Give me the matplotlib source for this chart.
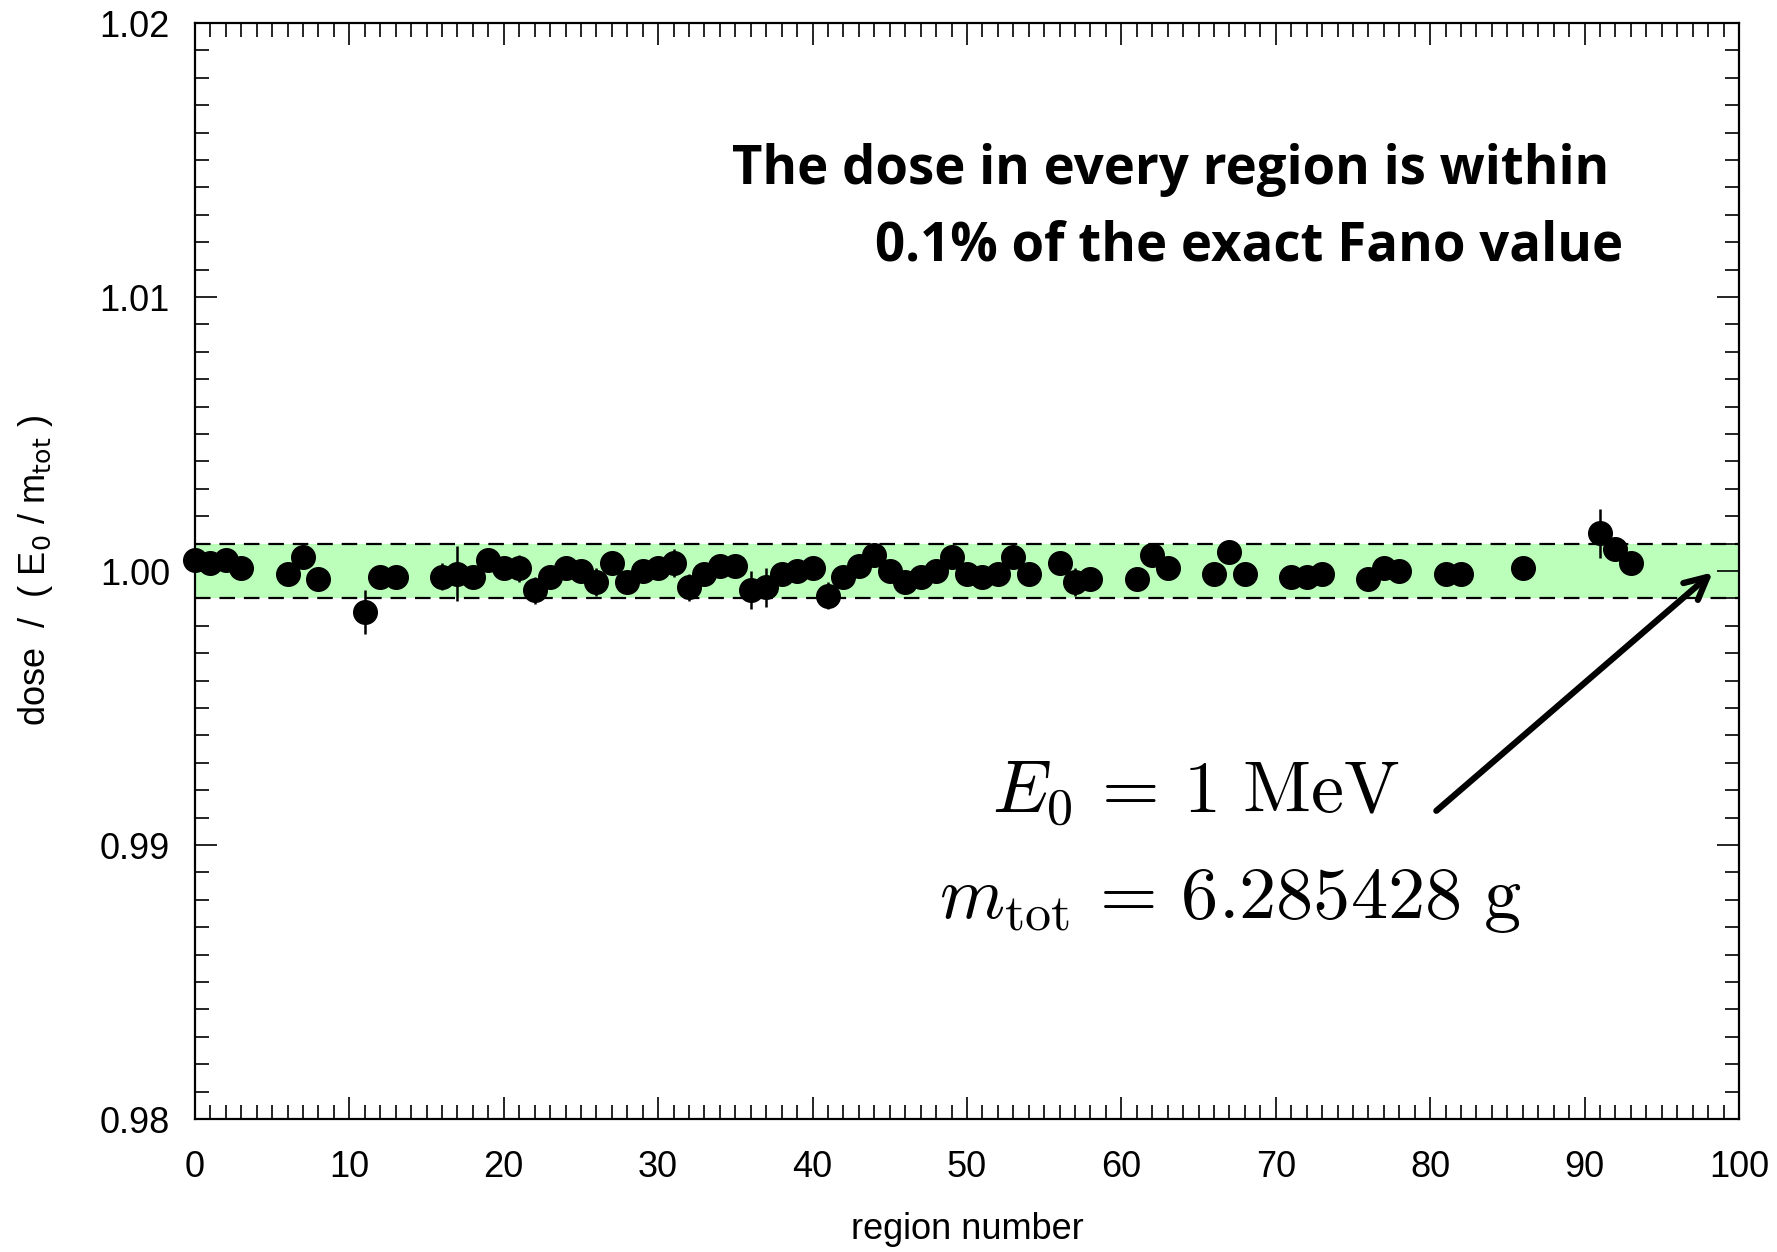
import numpy as np
import matplotlib
matplotlib.use("Agg")
import matplotlib.pyplot as plt
from matplotlib.ticker import MultipleLocator

plt.rcParams['font.family'] = ['Liberation Sans', 'DejaVu Sans']
plt.rcParams['mathtext.fontset'] = 'cm'

# region number, dose / (E0/mtot), uncertainty
region = [0, 1, 2, 3, 6, 7, 8, 11, 12, 13, 16, 17, 18, 19, 20, 21, 22, 23, 24, 25,
          26, 27, 28, 29, 30, 31, 32, 33, 34, 35, 36, 37, 38, 39, 40, 41, 42, 43, 44, 45,
          46, 47, 48, 49, 50, 51, 52, 53, 54, 56, 57, 58, 61, 62, 63, 66, 67, 68, 71, 72,
          73, 76, 77, 78, 81, 82, 86, 91, 92, 93]
dose = [1.0004, 1.0003, 1.0004, 1.0001, 0.9999, 1.0005, 0.9997, 0.9985, 0.9998, 0.9998,
        0.9998, 0.9999, 0.9998, 1.0004, 1.0001, 1.0001, 0.9993, 0.9998, 1.0001, 1.0000,
        0.9996, 1.0003, 0.9996, 1.0000, 1.0001, 1.0003, 0.9994, 0.9999, 1.0002, 1.0002,
        0.9993, 0.9994, 0.9999, 1.0000, 1.0001, 0.9991, 0.9998, 1.0002, 1.0006, 1.0000,
        0.9996, 0.9998, 1.0000, 1.0005, 0.9999, 0.9998, 0.9999, 1.0005, 0.9999, 1.0003,
        0.9996, 0.9997, 0.9997, 1.0006, 1.0001, 0.9999, 1.0007, 0.9999, 0.9998, 0.9998,
        0.9999, 0.9997, 1.0001, 1.0000, 0.9999, 0.9999, 1.0001, 1.00137, 1.0008, 1.0003]
err = [0.0003, 0.0003, 0.0003, 0.0003, 0.0003, 0.0003, 0.0003, 0.0008, 0.0004, 0.0003,
       0.0005, 0.0010, 0.0003, 0.0003, 0.0003, 0.0005, 0.0005, 0.0003, 0.0003, 0.0003,
       0.0005, 0.0004, 0.0003, 0.0003, 0.0003, 0.0005, 0.0005, 0.0003, 0.0003, 0.0003,
       0.0007, 0.0007, 0.0003, 0.0003, 0.0003, 0.0005, 0.0003, 0.0003, 0.0003, 0.0003,
       0.0003, 0.0003, 0.0003, 0.0003, 0.0003, 0.0003, 0.0003, 0.0003, 0.0003, 0.0003,
       0.0005, 0.0003, 0.0003, 0.0003, 0.0003, 0.0003, 0.0003, 0.0003, 0.0003, 0.0003,
       0.0003, 0.0003, 0.0003, 0.0003, 0.0003, 0.0003, 0.0003, 0.0009, 0.0004, 0.0003]

band_lo, band_hi = 0.999, 1.001

fig = plt.figure(figsize=(17.77, 12.52), dpi=100)
ax = fig.add_axes([0.1097, 0.1062, 0.8689, 0.8754])

ax.axhspan(band_lo, band_hi, color='#bbffbb', zorder=0, lw=0)
for yv in (band_lo, band_hi):
    ax.axhline(yv, color='black', lw=1.6, ls=(0, (7, 4)), zorder=1)

ax.errorbar(region, dose, yerr=err, fmt='o', color='black', ms=17, elinewidth=1.8,
            capsize=0, zorder=3, clip_on=False)

ax.set_xlim(0, 100)
ax.set_ylim(0.98, 1.02)
ax.xaxis.set_major_locator(MultipleLocator(10))
ax.xaxis.set_minor_locator(MultipleLocator(1))
ax.yaxis.set_major_locator(MultipleLocator(0.01))
ax.yaxis.set_minor_locator(MultipleLocator(0.001))
ax.yaxis.set_major_formatter(matplotlib.ticker.FormatStrFormatter('%.2f'))
ax.tick_params(which='both', direction='in', top=True, right=True, width=1.2,
               labelsize=26)
ax.tick_params(axis='x', pad=22)
ax.tick_params(axis='y', pad=18)
ax.tick_params(which='major', length=16)
ax.tick_params(which='minor', length=10)
for s in ax.spines.values():
    s.set_linewidth(1.6)

ax.set_xlabel('region number', fontsize=26, labelpad=20)
ax.set_ylabel(r'dose  /  ( E$_0$ / m$_{\rm tot}$ )', fontsize=26, labelpad=32,
              math_fontfamily='dejavusans')

ax.text(0.925, 0.831, 'The dose in every region is within \n0.1% of the exact Fano value',
        transform=ax.transAxes, ha='right', va='center', fontsize=38, fontweight='bold',
        family='Open Sans', linespacing=1.54)

ax.text(0.516, 0.297, r'$E_0\,=\,1\ \mathrm{MeV}$', transform=ax.transAxes,
        ha='left', va='center', fontsize=53.5)
ax.text(0.482, 0.199, r'$m_{\mathrm{tot}}\,=\,6.285428\ \mathrm{g}$', transform=ax.transAxes,
        ha='left', va='center', fontsize=53.5)

ax.annotate('', xy=(98.3, 0.99995), xytext=(80.4, 0.99125),
            arrowprops=dict(arrowstyle='->', lw=4.5, color='black',
                            mutation_scale=40, shrinkA=0, shrinkB=0))

fig.savefig('out.png', dpi=100)
